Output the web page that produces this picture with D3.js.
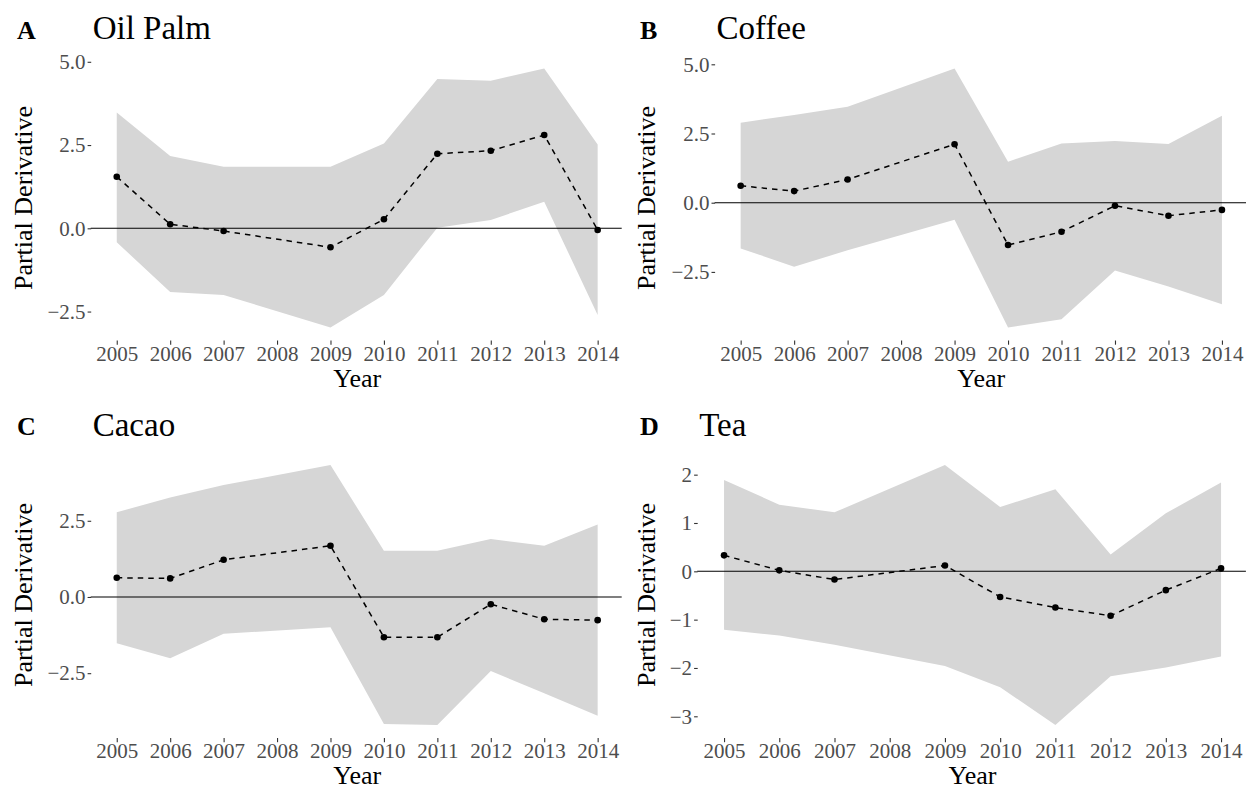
<!DOCTYPE html>
<html>
<head>
<meta charset="utf-8">
<script src="https://cdn.jsdelivr.net/npm/d3@7"></script>
<style>
  html, body { margin: 0; padding: 0; background: #ffffff; }
  svg { display: block; }
  text { font-family: "Liberation Serif", "Times New Roman", "DejaVu Serif", serif; }
</style>
</head>
<body>
<svg id="chart" width="1247" height="790"></svg>
<script>
// ---- data ----
const years = [2005, 2006, 2007, 2009, 2010, 2011, 2012, 2013, 2014];
const xTickYears = [2005, 2006, 2007, 2008, 2009, 2010, 2011, 2012, 2013, 2014];

const oilPalmEst   = [1.55, 0.12, -0.08, -0.57, 0.27, 2.24, 2.33, 2.80, -0.05];
const oilPalmUpper = [3.48, 2.17, 1.85, 1.85, 2.55, 4.48, 4.43, 4.80, 2.52];
const oilPalmLower = [-0.42, -1.91, -2.00, -2.98, -2.00, 0.02, 0.25, 0.80, -2.60];

const coffeeEst   = [0.61, 0.42, 0.84, 2.11, -1.53, -1.05, -0.11, -0.47, -0.26];
const coffeeUpper = [2.89, 3.17, 3.47, 4.85, 1.48, 2.14, 2.23, 2.12, 3.14];
const coffeeLower = [-1.65, -2.31, -1.72, -0.62, -4.51, -4.21, -2.45, -3.03, -3.67];

const cacaoEst   = [0.63, 0.61, 1.22, 1.68, -1.32, -1.32, -0.24, -0.73, -0.76];
const cacaoUpper = [2.78, 3.26, 3.67, 4.33, 1.52, 1.52, 1.90, 1.68, 2.38];
const cacaoLower = [-1.52, -2.01, -1.21, -0.99, -4.17, -4.20, -2.43, -3.16, -3.90];

const teaEst   = [0.33, 0.02, -0.17, 0.12, -0.53, -0.75, -0.92, -0.39, 0.06];
const teaUpper = [1.89, 1.38, 1.22, 2.20, 1.33, 1.70, 0.35, 1.20, 1.84];
const teaLower = [-1.21, -1.33, -1.52, -1.96, -2.40, -3.18, -2.17, -1.99, -1.76];

const panelLetters = ["A", "B", "C", "D"];
const panelTitles = ["Oil Palm", "Coffee", "Cacao", "Tea"];
const ticksA = [-2.5, 0, 2.5, 5.0];
const ticksB = [-2.5, 0, 2.5, 5.0];
const ticksC = [-2.5, 0, 2.5];
const ticksD = [-3, -2, -1, 0, 1, 2];
const xLabel = "Year";
const yLabel = "Partial Derivative";

// ---- layout ----
const panels = [
  { letter: panelLetters[0], title: panelTitles[0], est: oilPalmEst, up: oilPalmUpper, lo: oilPalmLower, ticks: ticksA, fmt: "1f",
    left: 92.7, right: 621.7, top: 55.5, bottom: 340.5, letterX: 17, ylabX: 32 },
  { letter: panelLetters[1], title: panelTitles[1], est: coffeeEst, up: coffeeUpper, lo: coffeeLower, ticks: ticksB, fmt: "1f",
    left: 716.6, right: 1246, top: 55.5, bottom: 340.5, letterX: 640, ylabX: 655 },
  { letter: panelLetters[2], title: panelTitles[2], est: cacaoEst, up: cacaoUpper, lo: cacaoLower, ticks: ticksC, fmt: "1f",
    left: 92.7, right: 621.7, top: 452, bottom: 738, letterX: 17, ylabX: 32 },
  { letter: panelLetters[3], title: panelTitles[3], est: teaEst, up: teaUpper, lo: teaLower, ticks: ticksD, fmt: "d",
    left: 699.2, right: 1245.9, top: 452, bottom: 738, letterX: 640, ylabX: 655 }
];

const svg = d3.select("#chart");
const fmtNum = (f) => (v) => {
  const s = f === "d" ? d3.format("d")(Math.abs(v)) : d3.format(".1f")(Math.abs(v));
  return (v < 0 ? "\u2212" : "") + s;
};

panels.forEach(p => {
  const g = svg.append("g");
  const yMin = d3.min(p.lo), yMax = d3.max(p.up);
  const padY = (yMax - yMin) * 0.05;
  const padX = (2014 - 2005) * 0.05;
  const x = d3.scaleLinear().domain([2005 - padX, 2014 + padX]).range([p.left, p.right]);
  const y = d3.scaleLinear().domain([yMin - padY, yMax + padY]).range([p.bottom, p.top]);

  const rows = years.map((yr, i) => ({ yr, est: p.est[i], up: p.up[i], lo: p.lo[i] }));

  // ribbon
  g.append("path")
    .datum(rows)
    .attr("fill", "#D6D6D6")
    .attr("d", d3.area().x(d => x(d.yr)).y0(d => y(d.lo)).y1(d => y(d.up)));

  // zero line
  g.append("line")
    .attr("x1", p.left - 2).attr("x2", p.right)
    .attr("y1", y(0)).attr("y2", y(0))
    .attr("stroke", "#000").attr("stroke-width", 1.1);

  // dashed estimate line
  g.append("path")
    .datum(rows)
    .attr("fill", "none")
    .attr("stroke", "#000")
    .attr("stroke-width", 1.5)
    .attr("stroke-dasharray", "5.5,5")
    .attr("d", d3.line().x(d => x(d.yr)).y(d => y(d.est)));

  // points
  g.selectAll("circle.pt").data(rows).join("circle")
    .attr("class", "pt")
    .attr("cx", d => x(d.yr)).attr("cy", d => y(d.est))
    .attr("r", 3.3).attr("fill", "#000");

  // y axis
  const yAxis = d3.axisLeft(y).tickValues(p.ticks).tickSize(3.6).tickPadding(2).tickFormat(fmtNum(p.fmt));
  const ya = g.append("g").attr("transform", `translate(${p.left - 1.5},0)`).call(yAxis);
  ya.select(".domain").remove();
  ya.selectAll(".tick line").attr("stroke", "#333333").attr("stroke-width", 1.1);
  ya.selectAll(".tick text").attr("fill", "#4D4D4D").style("font-size", "21px")
    .style("font-family", "'Liberation Serif', 'Times New Roman', serif");

  // x axis
  const xAxis = d3.axisBottom(x).tickValues(xTickYears).tickSize(4.2).tickPadding(1).tickFormat(d3.format("d"));
  const xa = g.append("g").attr("transform", `translate(0,${p.bottom})`).call(xAxis);
  xa.select(".domain").remove();
  xa.selectAll(".tick line").attr("stroke", "#333333").attr("stroke-width", 1.1);
  xa.selectAll(".tick text").attr("fill", "#4D4D4D").style("font-size", "21px")
    .style("font-family", "'Liberation Serif', 'Times New Roman', serif");

  // x title
  g.append("text")
    .attr("x", (p.left + p.right) / 2).attr("y", p.bottom + 46)
    .attr("text-anchor", "middle").attr("fill", "#000")
    .style("font-size", "26px").text(xLabel);

  // y title
  g.append("text")
    .attr("transform", `translate(${p.ylabX},${(p.top + p.bottom) / 2}) rotate(-90)`)
    .attr("text-anchor", "middle").attr("fill", "#000")
    .style("font-size", "26px").text(yLabel);

  // panel title
  g.append("text")
    .attr("x", p.left).attr("y", p.top - 16.5)
    .attr("fill", "#000").style("font-size", "33px").text(p.title);

  // panel letter
  g.append("text")
    .attr("x", p.letterX).attr("y", p.top - 17)
    .attr("fill", "#000").style("font-size", "26px").style("font-weight", "bold").text(p.letter);
});
</script>
</body>
</html>
